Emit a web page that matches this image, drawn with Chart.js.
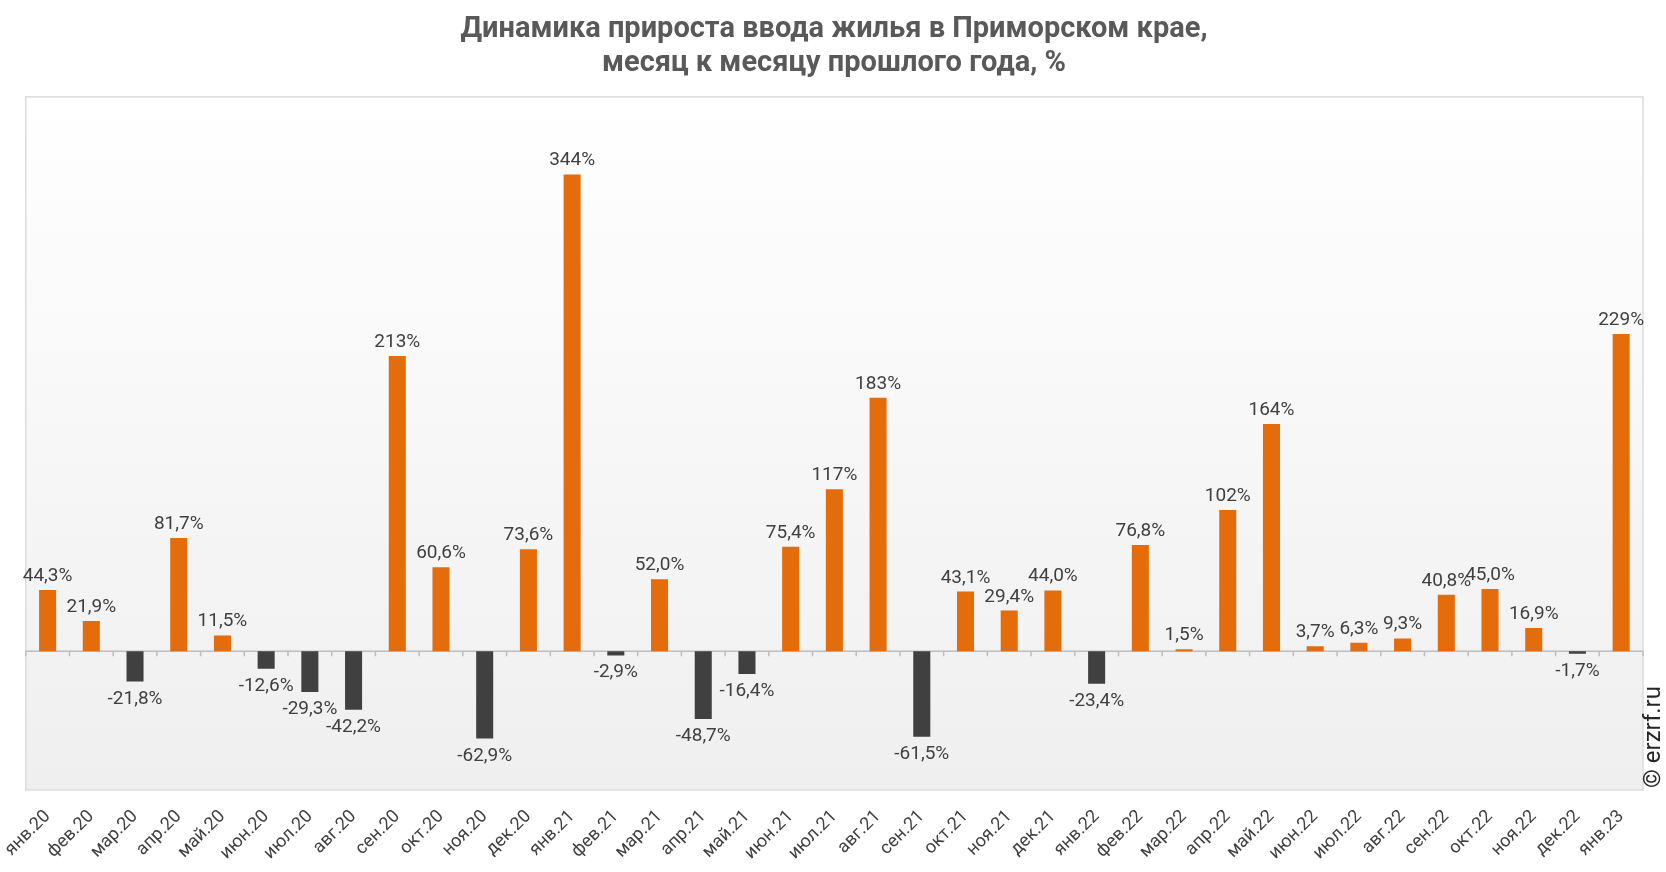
<!DOCTYPE html>
<html lang="ru">
<head>
<meta charset="utf-8">
<title>Динамика прироста ввода жилья в Приморском крае</title>
<script src="https://cdn.jsdelivr.net/npm/chart.js@4/dist/chart.umd.min.js"></script>
<style>
  html, body { margin: 0; padding: 0; background: #fff; }
  #wrap { width: 1666px; height: 872px; position: relative; }
</style>
</head>
<body>
<div id="wrap"><canvas id="grafico"></canvas></div>
<script>
// Данные
const meses = [
  "янв.20", "фев.20", "мар.20", "апр.20", "май.20", "июн.20", "июл.20", "авг.20", "сен.20", "окт.20", "ноя.20", "дек.20",
  "янв.21", "фев.21", "мар.21", "апр.21", "май.21", "июн.21", "июл.21", "авг.21", "сен.21", "окт.21", "ноя.21", "дек.21",
  "янв.22", "фев.22", "мар.22", "апр.22", "май.22", "июн.22", "июл.22", "авг.22", "сен.22", "окт.22", "ноя.22", "дек.22",
  "янв.23"
];
const prirost = [
  44.3, 21.9, -21.8, 81.7, 11.5, -12.6, -29.3, -42.2, 213, 60.6, -62.9, 73.6,
  344, -2.9, 52.0, -48.7, -16.4, 75.4, 117, 183, -61.5, 43.1, 29.4, 44.0,
  -23.4, 76.8, 1.5, 102, 164, 3.7, 6.3, 9.3, 40.8, 45.0, 16.9, -1.7,
  229
];
const titulo = ["Динамика прироста ввода жилья в Приморском крае,", "месяц к месяцу прошлого года, %"];
const eixoMin = -100;
const eixoMax = 400;

const LARANJA = "#e46c0a";
const CINZA = "#404040";
const TEXTO = "#404040";

function formatar(v) {
  if (Math.abs(v) >= 100) return Math.round(v) + "%";
  return v.toFixed(1).replace(".", ",") + "%";
}

// fundo com gradiente + moldura da área do gráfico
const fundoPlugin = {
  id: "fundo",
  beforeDraw(chart) {
    const { ctx, chartArea: a } = chart;
    const g = ctx.createLinearGradient(0, a.top, 0, a.bottom);
    g.addColorStop(0, "#ffffff");
    g.addColorStop(1, "#efefef");
    ctx.save();
    ctx.fillStyle = g;
    ctx.fillRect(a.left, a.top, a.right - a.left, a.bottom - a.top);
    ctx.strokeStyle = "#dcdcdc";
    ctx.lineWidth = 1.5;
    ctx.strokeRect(a.left, a.top, a.right - a.left, a.bottom - a.top);
    ctx.restore();
  },
  beforeDatasetsDraw(chart) {
    // linha do zero com marcas entre as categorias
    const { ctx, chartArea: a, scales } = chart;
    const y0 = scales.y.getPixelForValue(0);
    const x = scales.x;
    const passo = x.getPixelForValue(1) - x.getPixelForValue(0);
    ctx.save();
    ctx.strokeStyle = "#bdbdbd";
    ctx.lineWidth = 1.5;
    ctx.beginPath();
    ctx.moveTo(a.left, y0);
    ctx.lineTo(a.right, y0);
    for (let i = 0; i <= meses.length; i++) {
      const px = x.getPixelForValue(0) - passo / 2 + i * passo;
      ctx.moveTo(px, y0);
      ctx.lineTo(px, y0 + 5);
    }
    ctx.stroke();
    ctx.restore();
  },
  afterDatasetsDraw(chart) {
    const { ctx } = chart;
    const meta = chart.getDatasetMeta(0);
    ctx.save();
    ctx.font = "19px Roboto";
    ctx.fillStyle = TEXTO;
    ctx.textAlign = "center";
    ctx.textBaseline = "alphabetic";
    meta.data.forEach((bar, i) => {
      const v = prirost[i];
      if (v >= 0) {
        ctx.fillText(formatar(v), bar.x, bar.y - 9);
      } else {
        ctx.fillText(formatar(v), bar.x, bar.y + 22);
      }
    });
    // copyright vertical
    ctx.translate(1654, 788);
    ctx.rotate(-Math.PI / 2);
    ctx.font = "24px Roboto";
    ctx.fillStyle = "#262626";
    ctx.textAlign = "left";
    ctx.textBaseline = "middle";
    ctx.fillText("© erzrf.ru", 0, 0);
    ctx.restore();
  }
};

const ctx = document.getElementById("grafico").getContext("2d");
new Chart(ctx, {
  type: "bar",
  data: {
    labels: meses,
    datasets: [{
      data: prirost,
      backgroundColor: prirost.map(v => v >= 0 ? LARANJA : CINZA),
      barPercentage: 0.39,
      categoryPercentage: 1
    }]
  },
  options: {
    responsive: true,
    maintainAspectRatio: false,
    animation: false,
    layout: { padding: { left: 25, right: 23, top: 0, bottom: 0 } },
    plugins: {
      legend: { display: false },
      tooltip: { enabled: false },
      title: {
        display: true,
        text: titulo,
        color: "#595959",
        font: { family: "Roboto", size: 29, weight: "bold", lineHeight: 1.17 },
        padding: { top: 13, bottom: 16 }
      }
    },
    scales: {
      x: {
        grid: { display: false },
        border: { display: false },
        ticks: {
          color: TEXTO,
          font: { family: "Roboto", size: 18 },
          minRotation: 45,
          maxRotation: 45,
          autoSkip: false,
          padding: 8
        },
        afterFit(scale) { scale.height = 82; }
      },
      y: {
        display: false,
        min: eixoMin,
        max: eixoMax
      }
    }
  },
  plugins: [fundoPlugin]
});
</script>
</body>
</html>
